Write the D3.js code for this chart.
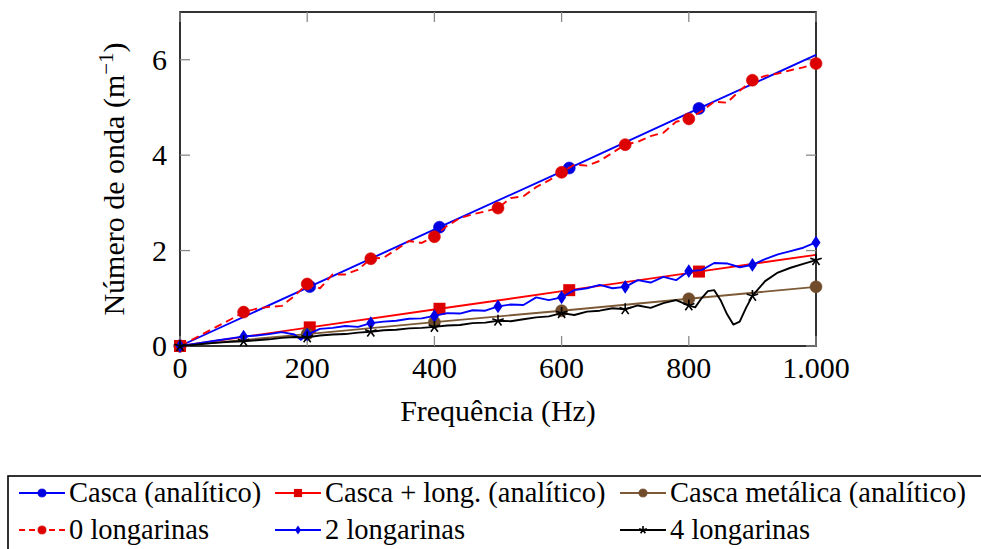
<html lang="pt"><head><meta charset="utf-8"><title>Numero de onda vs frequencia</title>
<script src="https://cdn.jsdelivr.net/npm/d3@7"></script>
</head>
<body style="margin:0">
<svg id="fig" width="981" height="549"></svg>
<script>
// Analytic curves
const cascaF = [0, 204, 408, 612, 816, 1000];
const cascaK = [0, 1.245, 2.49, 3.73, 4.98, 6.1];
const cascaMarks = [0, 204, 408, 612, 816];

const longF = [0, 204, 408, 612, 816, 1000];
const longK = [0, 0.39, 0.78, 1.17, 1.56, 1.91];
const longMarks = [0, 204, 408, 612, 816];

const metalF = [0, 200, 400, 600, 800, 1000];
const metalK = [0, 0.25, 0.50, 0.74, 0.99, 1.24];
const metalMarks = [0, 200, 400, 600, 800, 1000];

// Measured curves
const zeroF = [0, 20, 40, 60, 80, 100, 120, 140, 160, 180, 200, 220, 240, 260, 280, 300, 320, 340, 360, 380, 400,
  420, 440, 460, 480, 500, 520, 540, 560, 580, 600, 620, 640, 660, 680, 700, 720, 740, 760, 780, 800,
  820, 840, 860, 880, 900, 920, 940, 960, 980, 1000];
const zeroK = [0, 0.14, 0.28, 0.42, 0.56, 0.71, 0.78, 0.82, 0.84, 1.05, 1.30, 1.21, 1.50, 1.50, 1.60, 1.83, 1.85, 2.02, 2.20, 2.16, 2.29,
  2.52, 2.68, 2.76, 2.82, 2.89, 3.10, 3.14, 3.33, 3.47, 3.64, 3.80, 3.78, 3.88, 4.05, 4.22, 4.28, 4.40, 4.47, 4.70, 4.76,
  4.92, 5.12, 5.10, 5.35, 5.57, 5.66, 5.71, 5.78, 5.84, 5.92];

const twoF = [0, 20, 40, 60, 80, 100, 120, 140, 160, 180, 190, 200, 220, 240, 260, 280, 300, 320, 340, 360, 380, 400,
  420, 440, 460, 480, 500, 520, 540, 560, 580, 600, 620, 640, 660, 680, 700, 720, 740, 760, 780, 800,
  820, 840, 860, 880, 900, 920, 940, 960, 980, 1000];
const twoK = [0, 0.04, 0.08, 0.12, 0.16, 0.20, 0.22, 0.25, 0.29, 0.24, 0.13, 0.24, 0.36, 0.38, 0.42, 0.40, 0.48, 0.51, 0.53, 0.57, 0.58, 0.63,
  0.69, 0.68, 0.75, 0.74, 0.83, 0.87, 0.86, 1.02, 0.96, 1.02, 1.17, 1.21, 1.28, 1.21, 1.24, 1.38, 1.33, 1.45, 1.38, 1.57,
  1.59, 1.74, 1.73, 1.65, 1.70, 1.82, 1.92, 1.99, 2.06, 2.17];

const fourF = [0, 20, 40, 60, 80, 100, 120, 140, 160, 180, 200, 220, 240, 260, 280, 300, 320, 340, 360, 380, 400,
  420, 440, 460, 480, 500, 520, 540, 560, 580, 600, 620, 640, 660, 680, 700, 720, 740, 760, 780, 800,
  810, 820, 830, 840, 850, 860, 870, 880, 890, 900, 920, 940, 960, 980, 1000];
const fourK = [0, 0.02, 0.05, 0.07, 0.09, 0.10, 0.12, 0.14, 0.17, 0.19, 0.18, 0.22, 0.24, 0.25, 0.28, 0.30, 0.33, 0.34, 0.37, 0.38, 0.40,
  0.43, 0.44, 0.48, 0.49, 0.53, 0.52, 0.56, 0.60, 0.62, 0.69, 0.65, 0.72, 0.74, 0.79, 0.77, 0.85, 0.80, 0.90, 0.96, 0.85,
  0.81, 1.00, 1.15, 1.17, 0.96, 0.67, 0.45, 0.51, 0.80, 1.05, 1.36, 1.54, 1.64, 1.72, 1.80];

const expMarks = [0, 100, 200, 300, 400, 500, 600, 700, 800, 900, 1000];

const xTicks = [0, 200, 400, 600, 800, 1000];
const xTickLabels = ["0", "200", "400", "600", "800", "1.000"];
const yTicks = [0, 2, 4, 6];

const series = [
  { name: "Casca (analítico)", f: cascaF, k: cascaK, marks: cascaMarks, color: "#0000ff", markFill: "#0000e0", mark: "circle" },
  { name: "Casca + long. (analítico)", f: longF, k: longK, marks: longMarks, color: "#ff0000", markFill: "#dd0000", mark: "square" },
  { name: "Casca metálica (analítico)", f: metalF, k: metalK, marks: metalMarks, color: "#7d5a36", markFill: "#704c2b", mark: "circle" },
  { name: "0 longarinas", f: zeroF, k: zeroK, marks: expMarks, color: "#ff0000", markFill: "#dd0000", mark: "circle", dash: "8,5" },
  { name: "2 longarinas", f: twoF, k: twoK, marks: expMarks, color: "#0000ff", markFill: "#0000e6", mark: "diamond" },
  { name: "4 longarinas", f: fourF, k: fourK, marks: expMarks, color: "#000000", markFill: "#000000", mark: "star" }
];

const svg = d3.select("#fig");
const margin = { top: 12, right: 165, bottom: 203, left: 180 };
const width = 981, height = 549;
const fontFam = '"Liberation Serif"';

const x = d3.scaleLinear().domain([0, 1000]).range([margin.left, width - margin.right]);
const y = d3.scaleLinear().domain([0, 7]).range([height - margin.bottom, margin.top]);

// frame
svg.append("rect")
  .attr("x", x(0)).attr("y", y(7))
  .attr("width", x(1000) - x(0)).attr("height", y(0) - y(7))
  .attr("fill", "none").attr("stroke", "#000").attr("stroke-width", 1.6);

// inward ticks on all four sides
const tickLen = 10;
const tg = svg.append("g").attr("stroke", "#8a8a8a").attr("stroke-width", 1.3);
xTicks.forEach(t => {
  tg.append("line").attr("x1", x(t)).attr("x2", x(t)).attr("y1", y(0)).attr("y2", y(0) - tickLen);
  tg.append("line").attr("x1", x(t)).attr("x2", x(t)).attr("y1", y(7)).attr("y2", y(7) + tickLen);
});
yTicks.forEach(t => {
  tg.append("line").attr("x1", x(0)).attr("x2", x(0) + tickLen).attr("y1", y(t)).attr("y2", y(t));
  tg.append("line").attr("x1", x(1000)).attr("x2", x(1000) - tickLen).attr("y1", y(t)).attr("y2", y(t));
});

// tick labels
xTicks.forEach((t, i) => {
  svg.append("text")
    .attr("x", x(t))
    .attr("y", y(0) + 32)
    .attr("text-anchor", "middle")
    .style("font-family", fontFam)
    .style("font-size", "30px")
    .text(xTickLabels[i]);
});
yTicks.forEach(t => {
  svg.append("text")
    .attr("x", x(0) - 13)
    .attr("y", y(t) + 10)
    .attr("text-anchor", "end")
    .style("font-family", fontFam)
    .style("font-size", "30px")
    .text(String(t));
});

// axis titles
svg.append("text")
  .attr("x", (x(0) + x(1000)) / 2)
  .attr("y", 421)
  .attr("text-anchor", "middle")
  .style("font-family", fontFam)
  .style("font-size", "30px")
  .text("Frequência (Hz)");

const yl = svg.append("text")
  .attr("transform", `translate(124,${(y(0) + y(7)) / 2}) rotate(-90)`)
  .attr("text-anchor", "middle")
  .style("font-family", fontFam)
  .style("font-size", "30px");
yl.append("tspan").text("Número de onda (m");
yl.append("tspan").attr("dy", -11).style("font-size", "21px").text("−1");
yl.append("tspan").attr("dy", 11).text(")");

// marker shapes
function drawMark(g, type, cx, cy, s, fill) {
  if (type === "circle") {
    g.append("circle").attr("cx", cx).attr("cy", cy).attr("r", 6 * s)
      .attr("fill", fill).attr("stroke", fill).attr("stroke-width", 0.6);
  } else if (type === "square") {
    g.append("rect").attr("x", cx - 6 * s).attr("y", cy - 6 * s)
      .attr("width", 12 * s).attr("height", 12 * s).attr("fill", fill);
  } else if (type === "diamond") {
    const p = d3.path();
    p.moveTo(cx, cy - 6.8 * s); p.lineTo(cx + 4.5 * s, cy); p.lineTo(cx, cy + 6.8 * s); p.lineTo(cx - 4.5 * s, cy); p.closePath();
    g.append("path").attr("d", p.toString()).attr("fill", fill);
  } else if (type === "star") {
    const p = d3.path();
    for (let i = 0; i < 5; i++) {
      const a = -Math.PI / 2 + i * 2 * Math.PI / 5;
      p.moveTo(cx, cy);
      p.lineTo(cx + 6 * s * Math.cos(a), cy + 6 * s * Math.sin(a));
    }
    g.append("path").attr("d", p.toString()).attr("stroke", fill).attr("stroke-width", 1.6).attr("fill", "none");
  }
}

const line = d3.line().x(d => x(d[0])).y(d => y(d[1]));

series.forEach(s => {
  const pts = s.f.map((f, i) => [f, s.k[i]]);
  const g = svg.append("g");
  g.append("path")
    .datum(pts)
    .attr("d", line)
    .attr("fill", "none")
    .attr("stroke", s.color)
    .attr("stroke-width", 1.9)
    .attr("stroke-linejoin", "round")
    .attr("stroke-dasharray", s.dash || null);
  pts.filter(d => s.marks.includes(d[0]))
    .forEach(d => drawMark(g, s.mark, x(d[0]), y(d[1]), 1, s.markFill));
});

// legend
const legend = svg.append("g");
legend.append("rect")
  .attr("x", 8).attr("y", 476)
  .attr("width", 990).attr("height", 100)
  .attr("fill", "#fff").attr("stroke", "#000").attr("stroke-width", 1.6);

const colX = [19, 275, 620];
const rowY = [493, 530];
series.forEach((s, i) => {
  const cx = colX[i % 3], cy = rowY[Math.floor(i / 3)];
  legend.append("line")
    .attr("x1", cx).attr("x2", cx + 46).attr("y1", cy).attr("y2", cy)
    .attr("stroke", s.color).attr("stroke-width", 1.9)
    .attr("stroke-dasharray", s.dash ? "6,4" : null);
  drawMark(legend, s.mark, cx + 23, cy, 0.68, s.markFill);
  legend.append("text")
    .attr("x", cx + 50)
    .attr("y", cy + 9)
    .style("font-family", fontFam)
    .style("font-size", "28.5px")
    .text(s.name);
});
</script>
</body>
</html>
